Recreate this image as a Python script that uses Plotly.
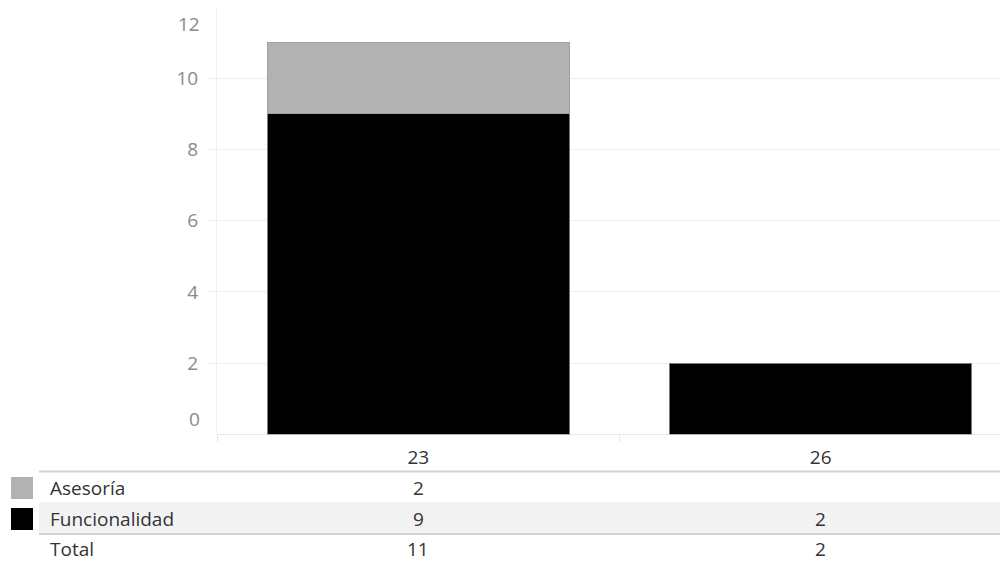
import plotly.graph_objects as go

categories = ["23", "26"]
asesoria = [2, None]
funcionalidad = [9, 2]
series_names = ["Asesoría", "Funcionalidad"]
series_colors = ["#b2b2b2", "#000000"]
y_ticks = [0, 2, 4, 6, 8, 10, 12]

W, H = 1000, 561
def py(p):
    return 1 - p / H

FONT = "Open Sans"
FS = 19
TXT = "#333333"
fig = go.Figure()
fig.add_trace(go.Bar(x=categories, y=funcionalidad, name=series_names[1],
                     marker=dict(color=series_colors[1], line=dict(color="#7a7a7a", width=1)),
                     width=0.75))
fig.add_trace(go.Bar(x=categories, y=asesoria, name=series_names[0],
                     marker=dict(color=series_colors[0], line=dict(color="#a0a0a0", width=1)),
                     width=0.75))

# table: row backgrounds and lines
shapes = [
    dict(type="rect", xref="paper", yref="paper", x0=0.039, x1=1, y0=py(533), y1=py(502),
         fillcolor="#f3f3f3", line=dict(width=0), layer="below"),
    dict(type="line", xref="paper", yref="paper", x0=0.039, x1=1, y0=py(471.5), y1=py(471.5),
         line=dict(color="#d2d2d2", width=2)),
    dict(type="line", xref="paper", yref="paper", x0=0.039, x1=1, y0=py(534), y1=py(534),
         line=dict(color="#d2d2d2", width=2)),
]
row_y = [488, 519]
for name, color, yc in zip(series_names, series_colors, row_y):
    shapes.append(dict(type="rect", xref="paper", yref="paper", x0=11 / W, x1=33 / W,
                       y0=py(yc + 11), y1=py(yc - 11), fillcolor=color, line=dict(width=0)))

annotations = []
row_values = [asesoria, funcionalidad]
for name, vals, yc in zip(series_names, row_values, row_y):
    annotations.append(dict(text=name, xref="paper", yref="paper", x=48 / W, y=py(yc),
                            xanchor="left", yanchor="middle", showarrow=False,
                            font=dict(family=FONT, size=FS, color=TXT)))
    for i, v in enumerate(vals):
        if v is not None:
            annotations.append(dict(text=str(v), xref="x", yref="paper", x=i, y=py(yc),
                                    xanchor="center", yanchor="middle", showarrow=False,
                                    font=dict(family=FONT, size=FS, color=TXT)))
totals = [sum(v for v in col if v is not None) for col in zip(asesoria, funcionalidad)]
annotations.append(dict(text="Total", xref="paper", yref="paper", x=48 / W, y=py(549),
                        xanchor="left", yanchor="middle", showarrow=False,
                        font=dict(family=FONT, size=FS, color=TXT)))
for i, t in enumerate(totals):
    annotations.append(dict(text=str(t), xref="x", yref="paper", x=i, y=py(549),
                            xanchor="center", yanchor="middle", showarrow=False,
                            font=dict(family=FONT, size=FS, color=TXT)))

# end labels of the value axis sit inside the axis range
for v, anchor in ((y_ticks[0], "bottom"), (y_ticks[-1], "top")):
    annotations.append(dict(text=str(v), xref="paper", yref="y", x=202 / W, y=v,
                            xanchor="right", yanchor=anchor, showarrow=False,
                            yshift=(0 if anchor == "bottom" else -2),
                            font=dict(family=FONT, size=FS, color="#8a8a8a")))

fig.update_layout(
    width=W, height=H, margin=dict(l=0, r=0, t=0, b=0),
    paper_bgcolor="white", plot_bgcolor="white",
    barmode="stack", showlegend=False, bargap=0.25,
    shapes=shapes, annotations=annotations,
    xaxis=dict(type="category", categoryorder="array", categoryarray=categories,
               domain=[217 / W, 1], range=[-0.5, 1.4454],
               showgrid=False, zeroline=False, showline=False,
               ticks="outside", tickson="boundaries", ticklen=7, tickcolor="#e6e6e6",
               tickfont=dict(family=FONT, size=FS, color=TXT),
               ticklabelstandoff=10),
    yaxis=dict(range=[0, 12], domain=[py(434.4), py(6.8)],
               tickvals=y_ticks[1:-1], showgrid=True, gridcolor="#efefef", gridwidth=1,
               zeroline=True, zerolinecolor="#e8e8e8", zerolinewidth=1,
               showline=True, linecolor="#eeeeee", linewidth=1,
               ticks="outside", ticklen=8, tickcolor="#efefef", ticklabelstandoff=6,
               tickfont=dict(family=FONT, size=FS, color="#8a8a8a")),
)

fig.write_html("out.html", config={"displayModeBar": False},
               post_script="document.body.style.margin='0';")
